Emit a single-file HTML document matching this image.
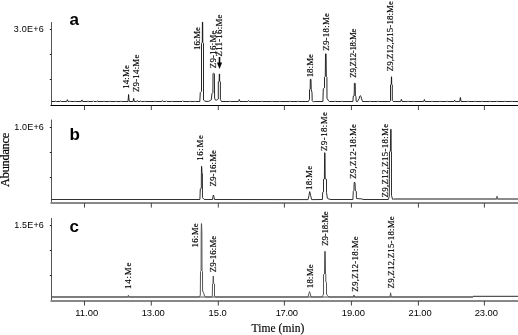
<!DOCTYPE html>
<html><head><meta charset="utf-8"><style>
html,body{margin:0;padding:0;background:#fff;width:518px;height:335px;overflow:hidden;}
svg{display:block;filter:grayscale(1);font-family:"Liberation Sans",sans-serif;}
</style></head><body>
<svg width="518" height="335" viewBox="0 0 518 335" fill="#000">
<line x1="51.5" y1="22.0" x2="51.5" y2="105.90" stroke="#555" stroke-width="1.00"/>
<line x1="49.80" y1="29.5" x2="51.5" y2="29.5" stroke="#222" stroke-width="1"/>
<line x1="49.80" y1="54.5" x2="51.5" y2="54.5" stroke="#222" stroke-width="1"/>
<line x1="49.80" y1="79.5" x2="51.5" y2="79.5" stroke="#222" stroke-width="1"/>
<line x1="50.5" y1="105.50" x2="518" y2="105.50" stroke="#000" stroke-width="1.20"/>
<line x1="84.5" y1="105.5" x2="84.5" y2="110.1" stroke="#444" stroke-width="1.00"/>
<line x1="151.3" y1="105.5" x2="151.3" y2="110.1" stroke="#444" stroke-width="1.00"/>
<line x1="218.3" y1="105.5" x2="218.3" y2="110.1" stroke="#444" stroke-width="1.00"/>
<line x1="284.4" y1="105.5" x2="284.4" y2="110.1" stroke="#444" stroke-width="1.00"/>
<line x1="351.4" y1="105.5" x2="351.4" y2="110.1" stroke="#444" stroke-width="1.00"/>
<line x1="418.4" y1="105.5" x2="418.4" y2="110.1" stroke="#444" stroke-width="1.00"/>
<line x1="484.4" y1="105.5" x2="484.4" y2="110.1" stroke="#444" stroke-width="1.00"/>
<path d="M51.50 101.50 L55.10 101.50 L55.80 101.00 L56.50 101.50 L59.90 101.50 L60.60 100.90 L61.30 101.50 L66.70 101.50 L67.40 99.70 L68.10 101.50 L69.30 101.50 L70.00 101.00 L70.70 101.50 L74.30 101.50 L75.00 101.10 L75.70 101.50 L81.20 101.50 L81.90 99.90 L82.60 101.50 L87.30 101.50 L88.00 101.10 L88.70 101.50 L92.70 101.50 L93.40 100.80 L94.10 101.50 L96.60 101.50 L97.30 101.00 L98.00 101.50 L103.30 101.50 L104.00 101.00 L104.70 101.50 L109.30 101.50 L110.00 100.90 L110.70 101.50 L115.30 101.50 L116.00 101.10 L116.70 101.50 L120.30 101.50 L121.00 101.00 L121.70 101.50 L128.00 101.50 L128.60 94.50 L129.20 101.50 L133.10 101.50 L133.70 98.30 L134.30 101.50 L136.60 101.50 L137.30 100.50 L138.00 101.50 L140.00 101.50 L140.70 100.90 L141.40 101.50 L144.30 101.50 L145.00 101.10 L145.70 101.50 L154.30 101.50 L155.00 101.00 L155.70 101.50 L161.80 101.50 L162.50 100.60 L163.20 101.50 L165.70 101.50 L166.40 100.80 L167.10 101.50 L171.30 101.50 L172.00 101.10 L172.70 101.50 L182.10 101.50 L182.80 100.80 L183.50 101.50 L189.30 101.50 L190.00 101.10 L190.70 101.50 L194.30 101.50 L195.00 101.10 L195.70 101.50 L199.80 101.50 L200.30 92.50 L201.50 91.30 L201.50 43.30 L202.30 42.30 L202.40 22.10 L202.70 22.10 L202.80 42.30 L203.50 43.30 L203.50 100.00 L204.60 100.90 L206.00 101.40 L208.50 101.40 L210.60 100.30 L211.30 99.80 L211.90 93.80 L212.90 92.80 L213.00 73.80 L213.60 73.20 L214.40 73.80 L214.60 98.30 L215.50 100.10 L216.60 100.10 L217.50 99.50 L218.30 98.90 L218.30 81.80 L219.20 81.30 L219.30 74.00 L219.60 74.00 L219.70 81.30 L220.40 81.80 L220.40 99.40 L221.50 101.50 L229.30 101.50 L230.00 101.00 L230.70 101.50 L238.60 101.50 L239.30 99.50 L240.00 101.50 L247.80 101.50 L248.50 100.50 L249.20 101.50 L261.30 101.50 L262.00 101.00 L262.70 101.50 L271.30 101.50 L272.00 101.00 L272.70 101.50 L279.30 101.50 L280.00 101.10 L280.70 101.50 L289.30 101.50 L290.00 101.00 L290.70 101.50 L297.30 101.50 L298.00 101.00 L298.70 101.50 L308.40 101.50 L309.50 99.30 L309.50 89.80 L310.20 89.30 L310.30 79.30 L311.00 79.30 L311.20 89.30 L312.00 92.70 L312.20 100.70 L313.30 101.90 L314.60 101.50 L322.90 101.50 L323.30 88.80 L324.50 87.80 L324.50 77.30 L325.30 76.30 L325.50 53.90 L326.10 53.90 L326.30 76.30 L326.90 77.30 L327.00 98.30 L328.50 100.80 L329.50 101.50 L334.30 101.50 L335.00 100.90 L335.70 101.50 L341.30 101.50 L342.00 101.00 L342.70 101.50 L352.90 101.50 L353.30 96.10 L354.20 95.80 L354.40 83.30 L355.20 83.30 L355.40 95.80 L356.00 96.30 L356.10 101.20 L357.50 101.60 L359.30 98.30 L359.60 96.30 L360.30 95.80 L361.00 96.30 L361.40 98.30 L362.50 101.50 L369.30 101.50 L370.00 101.00 L370.70 101.50 L377.30 101.50 L378.00 101.00 L378.70 101.50 L389.90 101.50 L390.50 100.50 L390.50 84.80 L391.30 84.30 L391.40 76.80 L391.60 76.80 L391.70 84.30 L392.30 84.80 L392.30 100.50 L393.20 101.50 L400.70 101.50 L401.40 99.30 L402.10 101.50 L407.30 101.50 L408.00 101.00 L408.70 101.50 L413.30 101.50 L414.00 101.10 L414.70 101.50 L423.70 101.50 L424.40 99.50 L425.10 101.50 L431.30 101.50 L432.00 101.00 L432.70 101.50 L439.30 101.50 L440.00 101.10 L440.70 101.50 L446.30 101.50 L447.00 101.00 L447.70 101.50 L454.00 101.50 L454.70 100.20 L455.40 101.50 L459.70 101.50 L460.40 97.50 L461.10 101.50 L467.30 101.50 L468.00 101.00 L468.70 101.50 L474.30 101.50 L475.00 101.10 L475.70 101.50 L481.30 101.50 L482.00 101.00 L482.70 101.50 L489.30 101.50 L490.00 101.10 L490.70 101.50 L496.30 101.50 L497.00 101.00 L497.70 101.50 L504.30 101.50 L505.00 101.10 L505.70 101.50 L511.30 101.50 L512.00 101.00 L512.70 101.50 L518.00 101.50" fill="none" stroke="#111" stroke-width="0.90" stroke-linejoin="round"/>
<text transform="translate(128.88,88.70) rotate(-90) scale(1,0.860)" font-family="Liberation Serif" font-size="8.80" textLength="23.52" lengthAdjust="spacing" stroke="#000" stroke-width="0.20">14:Me</text>
<text transform="translate(138.66,92.12) rotate(-90) scale(1,0.860)" font-family="Liberation Serif" font-size="8.80" textLength="37.45" lengthAdjust="spacing" stroke="#000" stroke-width="0.20">Z9-14:Me</text>
<text transform="translate(200.22,49.92) rotate(-90) scale(1,0.860)" font-family="Liberation Serif" font-size="8.80" textLength="22.85" lengthAdjust="spacing" stroke="#000" stroke-width="0.20">16:Me</text>
<text transform="translate(215.98,68.22) rotate(-90) scale(1,0.860)" font-family="Liberation Serif" font-size="8.80" textLength="37.63" lengthAdjust="spacing" stroke="#000" stroke-width="0.20">Z9-16:Me</text>
<text transform="translate(222.22,56.44) rotate(-90) scale(1,0.860)" font-family="Liberation Serif" font-size="8.80" textLength="41.81" lengthAdjust="spacing" stroke="#000" stroke-width="0.20">Z11-16:Me</text>
<text transform="translate(313.12,77.36) rotate(-90) scale(1,0.860)" font-family="Liberation Serif" font-size="8.80" textLength="23.31" lengthAdjust="spacing" stroke="#000" stroke-width="0.20">18:Me</text>
<text transform="translate(329.22,50.78) rotate(-90) scale(1,0.860)" font-family="Liberation Serif" font-size="8.80" textLength="37.81" lengthAdjust="spacing" stroke="#000" stroke-width="0.20">Z9-18:Me</text>
<text transform="translate(355.86,77.66) rotate(-90) scale(1,0.860)" font-family="Liberation Serif" font-size="8.80" textLength="49.00" lengthAdjust="spacing" stroke="#000" stroke-width="0.20">Z9,Z12-18:Me</text>
<text transform="translate(393.30,71.22) rotate(-90) scale(1,0.860)" font-family="Liberation Serif" font-size="8.80" textLength="70.02" lengthAdjust="spacing" stroke="#000" stroke-width="0.20">Z9,Z12,Z15-18:Me</text>
<line x1="51.5" y1="119.6" x2="51.5" y2="203.70" stroke="#555" stroke-width="1.00"/>
<line x1="49.80" y1="127.5" x2="51.5" y2="127.5" stroke="#222" stroke-width="1"/>
<line x1="49.80" y1="152.5" x2="51.5" y2="152.5" stroke="#222" stroke-width="1"/>
<line x1="49.80" y1="177.5" x2="51.5" y2="177.5" stroke="#222" stroke-width="1"/>
<line x1="50.5" y1="203.00" x2="518" y2="203.00" stroke="#888" stroke-width="2.00"/>
<line x1="84.5" y1="203.0" x2="84.5" y2="207.6" stroke="#444" stroke-width="1.00"/>
<line x1="151.3" y1="203.0" x2="151.3" y2="207.6" stroke="#444" stroke-width="1.00"/>
<line x1="218.3" y1="203.0" x2="218.3" y2="207.6" stroke="#444" stroke-width="1.00"/>
<line x1="284.4" y1="203.0" x2="284.4" y2="207.6" stroke="#444" stroke-width="1.00"/>
<line x1="351.4" y1="203.0" x2="351.4" y2="207.6" stroke="#444" stroke-width="1.00"/>
<line x1="418.4" y1="203.0" x2="418.4" y2="207.6" stroke="#444" stroke-width="1.00"/>
<line x1="484.4" y1="203.0" x2="484.4" y2="207.6" stroke="#444" stroke-width="1.00"/>
<path d="M51.50 199.50 L199.90 199.50 L200.30 188.80 L201.30 188.30 L201.40 172.80 L201.50 166.30 L201.70 166.30 L202.00 172.80 L202.40 173.30 L202.50 197.60 L204.00 199.30 L205.00 199.50 L212.50 199.50 L213.00 196.30 L213.40 195.00 L213.90 196.30 L214.40 199.50 L308.10 199.60 L309.00 195.30 L309.70 191.60 L310.60 195.30 L311.60 199.60 L322.40 199.50 L322.70 192.30 L323.50 191.80 L323.50 179.30 L324.40 178.90 L324.60 152.80 L325.00 152.80 L325.20 178.90 L326.50 179.30 L326.50 192.30 L327.40 198.30 L329.00 199.10 L331.00 199.50 L352.90 199.50 L353.30 191.30 L353.90 190.70 L354.20 182.50 L355.00 182.50 L355.40 190.70 L356.30 191.30 L356.40 198.40 L358.00 198.70 L362.00 198.90 L363.00 199.50 L388.40 199.50 L389.30 196.30 L389.50 151.80 L390.40 151.30 L390.70 129.30 L391.10 129.30 L391.20 151.30 L391.50 151.80 L391.50 195.30 L392.50 199.30 L393.50 199.43" fill="none" stroke="#1a1a1a" stroke-width="0.90" stroke-linejoin="round"/>
<path d="M393.50 198.93 L394.00 199.00 L496.30 199.00 L497.00 196.40 L497.70 199.00 L518.00 199.00" fill="none" stroke="#666" stroke-width="1.30" stroke-linejoin="round"/>
<text transform="translate(202.64,160.82) rotate(-90) scale(1,0.860)" font-family="Liberation Serif" font-size="8.80" textLength="25.70" lengthAdjust="spacing" stroke="#000" stroke-width="0.20">16:Me</text>
<text transform="translate(216.00,186.44) rotate(-90) scale(1,0.860)" font-family="Liberation Serif" font-size="8.80" textLength="36.41" lengthAdjust="spacing" stroke="#000" stroke-width="0.20">Z9-16:Me</text>
<text transform="translate(312.12,190.04) rotate(-90) scale(1,0.860)" font-family="Liberation Serif" font-size="8.80" textLength="24.14" lengthAdjust="spacing" stroke="#000" stroke-width="0.20">18:Me</text>
<text transform="translate(327.32,151.00) rotate(-90) scale(1,0.860)" font-family="Liberation Serif" font-size="8.80" textLength="39.01" lengthAdjust="spacing" stroke="#000" stroke-width="0.20">Z9-18:Me</text>
<text transform="translate(355.52,178.78) rotate(-90) scale(1,0.860)" font-family="Liberation Serif" font-size="8.80" textLength="54.63" lengthAdjust="spacing" stroke="#000" stroke-width="0.20">Z9,Z12-18:Me</text>
<text transform="translate(388.20,197.56) rotate(-90) scale(1,0.860)" font-family="Liberation Serif" font-size="8.80" textLength="73.62" lengthAdjust="spacing" stroke="#000" stroke-width="0.20">Z9,Z12,Z15-18:Me</text>
<line x1="51.5" y1="218.0" x2="51.5" y2="301.90" stroke="#555" stroke-width="1.00"/>
<line x1="49.80" y1="225.5" x2="51.5" y2="225.5" stroke="#222" stroke-width="1"/>
<line x1="49.80" y1="250.5" x2="51.5" y2="250.5" stroke="#222" stroke-width="1"/>
<line x1="49.80" y1="275.5" x2="51.5" y2="275.5" stroke="#222" stroke-width="1"/>
<line x1="50.5" y1="301.00" x2="518" y2="301.00" stroke="#888" stroke-width="2.00"/>
<line x1="84.5" y1="301.0" x2="84.5" y2="305.6" stroke="#444" stroke-width="1.00"/>
<line x1="151.3" y1="301.0" x2="151.3" y2="305.6" stroke="#444" stroke-width="1.00"/>
<line x1="218.3" y1="301.0" x2="218.3" y2="305.6" stroke="#444" stroke-width="1.00"/>
<line x1="284.4" y1="301.0" x2="284.4" y2="305.6" stroke="#444" stroke-width="1.00"/>
<line x1="351.4" y1="301.0" x2="351.4" y2="305.6" stroke="#444" stroke-width="1.00"/>
<line x1="418.4" y1="301.0" x2="418.4" y2="305.6" stroke="#444" stroke-width="1.00"/>
<line x1="484.4" y1="301.0" x2="484.4" y2="305.6" stroke="#444" stroke-width="1.00"/>
<line x1="52" y1="297.00" x2="473.0" y2="297.00" stroke="#8a8a8a" stroke-width="1.70"/>
<path d="M51.50 297.00 L127.70 297.00 L128.40 295.30 L129.10 297.00 L199.50 297.00 L200.30 295.00 L200.50 271.50 L201.10 271.00 L201.20 233.00 L201.40 223.60 L201.60 223.60 L201.90 233.00 L202.00 271.00 L202.50 271.50 L202.60 291.00 L203.80 293.30 L204.50 296.00 L206.00 297.00 L211.60 297.00 L212.30 296.00 L212.50 284.00 L213.00 283.40 L213.20 276.00 L213.40 276.00 L213.60 283.40 L214.50 284.00 L214.50 296.00 L215.50 297.00 L308.00 297.00 L308.90 293.50 L309.50 291.60 L310.20 293.50 L311.00 297.00 L322.30 297.00 L322.80 295.50 L323.50 294.00 L323.50 274.50 L324.50 274.00 L324.70 251.50 L325.30 251.50 L325.50 274.00 L325.80 274.50 L325.80 282.00 L326.50 282.50 L326.50 294.00 L327.50 295.50 L329.00 297.00 L353.30 297.00 L354.00 295.00 L354.70 297.00 L389.90 297.00 L390.60 292.80 L391.30 297.00 L473.00 297.00" fill="none" stroke="#555" stroke-width="1.00" stroke-linejoin="round"/>
<path d="M473.00 296.30 L518.00 296.30" fill="none" stroke="#111" stroke-width="0.90" stroke-linejoin="round"/>
<text transform="translate(130.56,289.04) rotate(-90) scale(1,0.860)" font-family="Liberation Serif" font-size="8.80" textLength="26.37" lengthAdjust="spacing" stroke="#000" stroke-width="0.20">14:Me</text>
<text transform="translate(198.00,247.48) rotate(-90) scale(1,0.860)" font-family="Liberation Serif" font-size="8.80" textLength="24.12" lengthAdjust="spacing" stroke="#000" stroke-width="0.20">16:Me</text>
<text transform="translate(215.86,272.34) rotate(-90) scale(1,0.860)" font-family="Liberation Serif" font-size="8.80" textLength="36.62" lengthAdjust="spacing" stroke="#000" stroke-width="0.20">Z9-16:Me</text>
<text transform="translate(312.56,288.14) rotate(-90) scale(1,0.860)" font-family="Liberation Serif" font-size="8.80" textLength="23.69" lengthAdjust="spacing" stroke="#000" stroke-width="0.20">18:Me</text>
<text transform="translate(327.54,245.68) rotate(-90) scale(1,0.860)" font-family="Liberation Serif" font-size="8.80" textLength="34.42" lengthAdjust="spacing" stroke="#000" stroke-width="0.20">Z9-18:Me</text>
<text transform="translate(357.54,291.68) rotate(-90) scale(1,0.860)" font-family="Liberation Serif" font-size="8.80" textLength="55.41" lengthAdjust="spacing" stroke="#000" stroke-width="0.20">Z9,Z12-18:Me</text>
<text transform="translate(393.64,288.44) rotate(-90) scale(1,0.860)" font-family="Liberation Serif" font-size="8.80" textLength="72.20" lengthAdjust="spacing" stroke="#000" stroke-width="0.20">Z9,Z12,Z15-18:Me</text>
<line x1="219.5" y1="57" x2="219.5" y2="64" stroke="#000" stroke-width="1.6"/><path d="M216.9 62.6 L222.1 62.6 L219.5 69.0 Z" fill="#000"/>
<text x="75.20" y="315.90" font-family="Liberation Sans" font-size="9.40" textLength="22.91" lengthAdjust="spacing">11.00</text>
<text x="141.73" y="315.90" font-family="Liberation Sans" font-size="9.40" textLength="23.09" lengthAdjust="spacing">13.00</text>
<text x="208.44" y="315.90" font-family="Liberation Sans" font-size="9.40" textLength="18.40" lengthAdjust="spacing">15.0</text>
<text x="275.73" y="315.90" font-family="Liberation Sans" font-size="9.40" textLength="22.18" lengthAdjust="spacing">17.00</text>
<text x="341.73" y="315.90" font-family="Liberation Sans" font-size="9.40" textLength="23.23" lengthAdjust="spacing">19.00</text>
<text x="408.50" y="315.90" font-family="Liberation Sans" font-size="9.40" textLength="23.23" lengthAdjust="spacing">21.00</text>
<text x="474.72" y="315.90" font-family="Liberation Sans" font-size="9.40" textLength="23.13" lengthAdjust="spacing">23.00</text>
<text x="251.50" y="332.30" font-family="Liberation Serif" font-size="11.50" textLength="52.95" lengthAdjust="spacing" stroke="#000" stroke-width="0.15">Time (min)</text>
<text x="13.72" y="32.00" font-family="Liberation Sans" font-size="9.00" textLength="30.11" lengthAdjust="spacing">3.0E+6</text>
<text x="14.20" y="129.70" font-family="Liberation Sans" font-size="9.00" textLength="29.69" lengthAdjust="spacing">1.0E+6</text>
<text x="14.20" y="228.00" font-family="Liberation Sans" font-size="9.00" textLength="29.69" lengthAdjust="spacing">1.5E+6</text>
<text x="69.46" y="25.10" font-family="Liberation Sans" font-size="17.00" font-weight="bold">a</text>
<text x="69.46" y="139.80" font-family="Liberation Sans" font-size="17.00" font-weight="bold">b</text>
<text x="69.46" y="232.00" font-family="Liberation Sans" font-size="17.00" font-weight="bold">c</text>
<text transform="translate(8.96,186.88) rotate(-90)" font-family="Liberation Serif" font-size="12.30" textLength="54.08" lengthAdjust="spacing" stroke="#000" stroke-width="0.20">Abundance</text>
</svg>
</body></html>
